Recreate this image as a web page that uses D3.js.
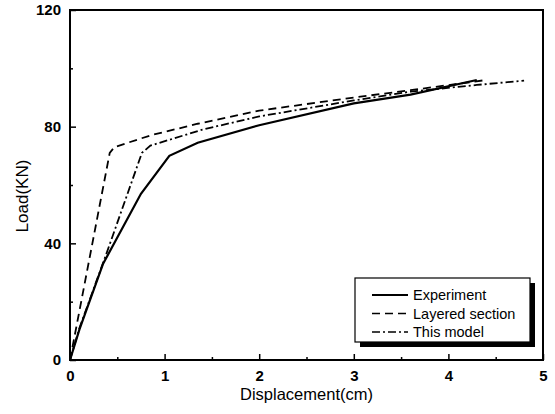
<!DOCTYPE html>
<html>
<head>
<meta charset="utf-8">
<script src="https://cdn.jsdelivr.net/npm/d3@7"></script>
<style>
  body { margin: 0; background: #fff; }
  text { font-family: Arial, "Liberation Sans", sans-serif; fill: #000; }
</style>
</head>
<body>
<div id="chart"></div>
<script>
'use strict';

// Data (displacement cm, load KN)
var experiment = [[0, 0], [0.1, 10.5], [0.35, 33], [0.75, 57], [1.05, 70], [1.35, 74.5],
  [2, 80.5], [3, 88], [3.6, 91], [4.3, 96]];
var layered = [[0, 0], [0.42, 71], [0.47, 73], [0.85, 77], [1.35, 81], [2, 85.5],
  [3, 90], [3.6, 92.5], [4.4, 96]];
var thisModel = [[0, 0], [0.1, 11], [0.38, 36], [0.76, 71], [0.85, 73.5], [1.4, 79],
  [2, 83.5], [3, 89], [3.6, 92], [4.3, 94.3], [4.8, 95.8]];

var xTicks = [0, 1, 2, 3, 4, 5];
var yTicks = [0, 40, 80, 120];
var seriesNames = ['Experiment', 'Layered section', 'This model'];
var seriesDash = [null, '8,5', '8,3,2,3'];

var width = 555, height = 414;
var margin = { left: 70, right: 12, top: 10, bottom: 54 };

var svg = d3.select('#chart').append('svg')
  .attr('width', width)
  .attr('height', height);

var x = d3.scaleLinear().domain([0, 5]).range([margin.left, width - margin.right]);
var y = d3.scaleLinear().domain([0, 120]).range([height - margin.bottom, margin.top]);

// ── Axes (ticks inward) ───────────────────────────
var xAxis = svg.append('g')
  .attr('transform', 'translate(0,' + y(0) + ')')
  .call(d3.axisBottom(x).tickValues(xTicks).tickSize(-6).tickPadding(10).tickFormat(d3.format('d')));
var xMinor = svg.append('g')
  .attr('transform', 'translate(0,' + y(0) + ')')
  .call(d3.axisBottom(x).tickValues([0.5, 1.5, 2.5, 3.5, 4.5]).tickSize(-3).tickFormat(''));

var yAxis = svg.append('g')
  .attr('transform', 'translate(' + x(0) + ',0)')
  .call(d3.axisLeft(y).tickValues(yTicks).tickSize(-6).tickPadding(9));
var yMinor = svg.append('g')
  .attr('transform', 'translate(' + x(0) + ',0)')
  .call(d3.axisLeft(y).tickValues([20, 60, 100]).tickSize(-3).tickFormat(''));

[xAxis, xMinor, yAxis, yMinor].forEach(function (a) {
  a.select('.domain').remove();
  a.selectAll('line').attr('stroke', '#000').attr('stroke-width', 1.5);
  a.selectAll('text').style('font-size', '15px').style('font-weight', 'bold')
    .style('font-family', 'Arial, "Liberation Sans", sans-serif');
});

// Frame
svg.append('rect')
  .attr('x', x(0)).attr('y', y(120))
  .attr('width', x(5) - x(0)).attr('height', y(0) - y(120))
  .attr('fill', 'none').attr('stroke', '#000').attr('stroke-width', 2);

// Axis titles
svg.append('text')
  .attr('x', (x(0) + x(5)) / 2).attr('y', 400)
  .attr('text-anchor', 'middle')
  .style('font-size', '16.5px')
  .text('Displacement(cm)');
svg.append('text')
  .attr('transform', 'translate(28,196) rotate(-90)')
  .attr('text-anchor', 'middle')
  .style('font-size', '17px')
  .text('Load(KN)');

// ── Curves ─────────────────────────────────────────
var line = d3.line()
  .x(function (d) { return x(d[0]); })
  .y(function (d) { return y(d[1]); });

var plot = svg.append('g');
[experiment, layered, thisModel].forEach(function (s, i) {
  plot.append('path')
    .datum(s)
    .attr('d', line)
    .attr('fill', 'none')
    .attr('stroke', '#000')
    .attr('stroke-width', i === 0 ? 2.2 : 1.8)
    .attr('stroke-dasharray', seriesDash[i]);
});

// ── Legend with drop shadow ───────────────────────
var lg = svg.append('g').attr('transform', 'translate(355,278)');
lg.append('rect').attr('x', 5).attr('y', 5).attr('width', 175).attr('height', 64).attr('fill', '#000');
lg.append('rect').attr('x', 0).attr('y', 0).attr('width', 175).attr('height', 64)
  .attr('fill', '#fff').attr('stroke', '#000').attr('stroke-width', 1.2);

seriesNames.forEach(function (name, i) {
  var yy = 17 + i * 18.5;
  lg.append('line')
    .attr('x1', 17).attr('x2', 53).attr('y1', yy).attr('y2', yy)
    .attr('stroke', '#000')
    .attr('stroke-width', i === 0 ? 2.2 : 1.6)
    .attr('stroke-dasharray', seriesDash[i]);
  lg.append('text')
    .attr('x', 58).attr('y', yy + 5)
    .style('font-size', '14.5px')
    .text(name);
});
</script>
</body>
</html>
